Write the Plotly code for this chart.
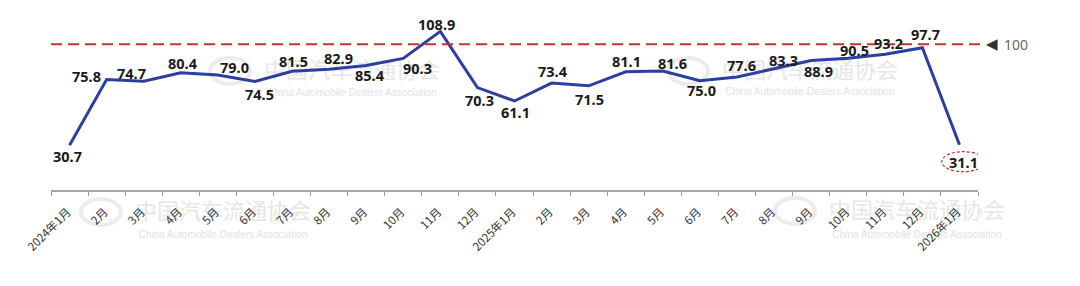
import plotly.graph_objects as go

# ---- data ----
months = ["2024年1月", "2月", "3月", "4月", "5月", "6月", "7月", "8月", "9月", "10月", "11月", "12月",
          "2025年1月", "2月", "3月", "4月", "5月", "6月", "7月", "8月", "9月", "10月", "11月", "12月",
          "2026年1月"]
values = [30.7, 75.8, 74.7, 80.4, 79.0, 74.5, 81.5, 82.9, 85.4, 90.3, 108.9, 70.3, 61.1,
          73.4, 71.5, 81.1, 81.6, 75.0, 77.6, 83.3, 88.9, 90.5, 93.2, 97.7, 31.1]
reference_level = 100
highlight_index = len(values) - 1

# ---- label placement (pixel offsets of label centre from point: dx right, dy down) ----
label_offsets = [(-2, 11), (-20, -4), (-12, -8.5), (2, -9.6), (17, -8), (5, 12.5), (1, -10.3),
                 (9.5, -11.5), (4, 9.4), (14.5, 10), (-3.5, -7.3), (2, 12.5), (0.5, 11.3),
                 (1.5, -12.4), (1.3, 13.5), (0.7, -11), (10, -7.8), (1.3, 9.3), (4.5, -11.9),
                 (9.8, -8.6), (7.8, 10.2), (6.2, -8.1), (3.5, -10.9), (3.3, -13.6), (4, 17)]

LINE_BLUE = "#2b3fa0"
RED = "#c9302c"
PL, PR, PT, PB = 51, 102, 10, 96
W, H = 1080, 286
PW, PH = W - PL - PR, H - PT - PB

x = list(range(len(values)))

fig = go.Figure()
fig.add_trace(go.Scatter(x=x, y=values, mode="lines",
                         line=dict(color=LINE_BLUE, width=3), hoverinfo="skip",
                         cliponaxis=False))

annotations = []
for i, (v, (dx, dy)) in enumerate(zip(values, label_offsets)):
    annotations.append(dict(x=i, y=v, xref="x", yref="y", text=f"{v:.1f}", showarrow=False,
                            xshift=dx, yshift=-dy,
                            font=dict(family="Noto Sans", size=14.5, color="#1a1a1a", weight="bold")))

# reference marker text at right
annotations.append(dict(xref="paper", yref="y", x=(999.5 - PL) / PW, y=reference_level,
                        text="◀", showarrow=False,
                        font=dict(family="DejaVu Sans", size=15, color="#333333")))
annotations.append(dict(xref="paper", yref="y", x=(1030 - PL) / PW, y=reference_level,
                        text=str(reference_level), showarrow=False,
                        font=dict(family="Noto Sans", size=14, color="#666666")))

shapes = []
# dashed reference line
shapes.append(dict(type="line", xref="paper", yref="y", x0=0, x1=(985 - PL) / PW,
                   y0=reference_level, y1=reference_level,
                   line=dict(color=RED, width=2, dash="11px,6px")))
# dotted ellipse around last value
shapes.append(dict(type="circle", xref="x", yref="y", xsizemode="pixel", ysizemode="pixel",
                   xanchor=highlight_index, yanchor=values[highlight_index],
                   x0=-17.7, x1=25.6, y0=-27, y1=-7,
                   line=dict(color=RED, width=1.2, dash="3px,2px")))


def px_x(p):
    return (p - PL) / PW


def px_y(p):
    return (PT + PH - p) / PH


# faint watermarks (drawn below the line)
wm_centres = [(352, 72, 91), (810, 72, 90), (917, 212, 233), (223, 213, 233)]
for cx, cy_cn, cy_en in wm_centres:
    shapes.append(dict(type="rect", xref="paper", yref="paper", layer="below",
                       x0=px_x(cx - 95), x1=px_x(cx + 95), y0=px_y(cy_cn + 12), y1=px_y(cy_cn - 12),
                       line=dict(width=0), fillcolor="rgba(0,0,0,0)",
                       label=dict(text="中国汽车流通协会", textposition="middle center",
                                  font=dict(family="Noto Sans CJK SC", size=22, color="#e6e6e6"))))
    shapes.append(dict(type="rect", xref="paper", yref="paper", layer="below",
                       x0=px_x(cx - 95), x1=px_x(cx + 95), y0=px_y(cy_en + 6), y1=px_y(cy_en - 6),
                       line=dict(width=0), fillcolor="rgba(0,0,0,0)",
                       label=dict(text="China Automobile Dealers Association", textposition="middle center",
                                  font=dict(family="Liberation Sans", size=10, color="#e2e2e2"))))
    # faint logo mark
    shapes.append(dict(type="circle", xref="paper", yref="paper", layer="below",
                       x0=px_x(cx - 142), x1=px_x(cx - 102), y0=px_y(cy_cn + 12), y1=px_y(cy_cn - 14),
                       line=dict(color="#ececec", width=4), fillcolor="rgba(0,0,0,0)"))

fig.update_layout(
    width=W, height=H, autosize=False,
    margin=dict(l=PL, r=PR, t=PT, b=PB, pad=0),
    plot_bgcolor="white", paper_bgcolor="white",
    showlegend=False,
    annotations=annotations,
    shapes=shapes,
    xaxis=dict(range=[-0.5, len(values) - 0.5], tickmode="array", tickvals=x, ticktext=months,
               ticks="", tickangle=-45, showgrid=False, zeroline=False,
               ticklabelstandoff=9, ticklabelshift=-2,
               showline=True, linecolor="#a6a6a6", linewidth=1.5,
               tickfont=dict(family="Noto Sans CJK SC", size=11.5, color="#333333"),
               minor=dict(ticks="outside", ticklen=4, tickcolor="#999999", tickwidth=1,
                          tick0=-0.5, dtick=1, showgrid=False)),
    yaxis=dict(range=[0, PH / 1.457], visible=False, showgrid=False, zeroline=False),
)

fig.write_html("out.html")
